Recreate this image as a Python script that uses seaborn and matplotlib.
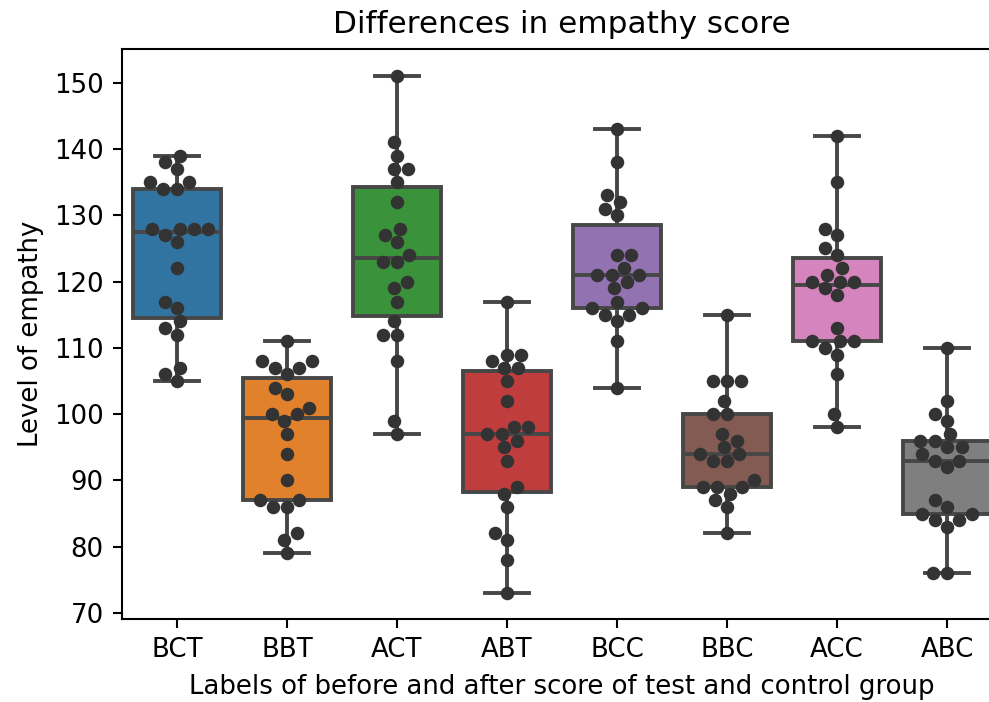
import numpy as np
import pandas as pd
import seaborn as sns
import matplotlib
matplotlib.use("Agg")
import matplotlib.pyplot as plt

categories = ["BCT", "BBT", "ACT", "ABT", "BCC", "BBC", "ACC", "ABC"]

bct = [139, 138, 137, 135, 135, 134, 134, 128, 128, 128, 128, 127, 126, 122, 117, 116, 114, 113, 112, 107, 106, 105]
bbt = [111, 108, 108, 107, 107, 106, 104, 103, 101, 100, 100, 99, 97, 94, 90, 87, 87, 86, 86, 82, 81, 79]
act = [151, 141, 139, 137, 137, 135, 132, 128, 127, 126, 124, 123, 123, 120, 119, 117, 114, 112, 112, 108, 99, 97]
abt = [117, 109, 109, 108, 107, 107, 105, 102, 98, 98, 97, 97, 96, 95, 93, 89, 88, 86, 82, 81, 78, 73]
bcc = [143, 138, 133, 132, 131, 130, 124, 124, 122, 121, 121, 121, 120, 119, 117, 116, 116, 115, 115, 114, 111, 104]
bbc = [115, 105, 105, 105, 102, 100, 100, 97, 96, 95, 94, 94, 93, 93, 90, 89, 89, 89, 88, 87, 86, 82]
acc = [142, 135, 128, 127, 125, 124, 122, 121, 120, 120, 120, 119, 118, 113, 111, 111, 111, 110, 109, 106, 100, 98]
abc = [110, 102, 100, 99, 97, 96, 96, 95, 95, 94, 93, 93, 92, 87, 86, 85, 85, 84, 84, 83, 76, 76]

series = [bct, bbt, act, abt, bcc, bbc, acc, abc]
df = pd.DataFrame({
    "label": np.repeat(categories, [len(s) for s in series]),
    "score": np.concatenate(series),
})

DPI = 187
fig = plt.figure(figsize=(989 / DPI, 702 / DPI), dpi=DPI)
ax = fig.add_axes([122 / 989, 1 - 619 / 702, 880 / 989, 570 / 702])

sns.boxplot(data=df, x="label", y="score", hue="label", order=categories,
            hue_order=categories, palette="tab10", saturation=0.75,
            linecolor="#474747", linewidth=1.5, legend=False, ax=ax)
sns.swarmplot(data=df, x="label", y="score", order=categories,
              color=".2", size=5.2, ax=ax)

ax.set_ylim(69.1, 155.1)
ax.set_yticks([70, 80, 90, 100, 110, 120, 130, 140, 150])
ax.set_title("Differences in empathy score")
ax.set_xlabel("Labels of before and after score of test and control group")
ax.set_ylabel("Level of empathy")

fig.savefig("out.png", dpi=DPI)
